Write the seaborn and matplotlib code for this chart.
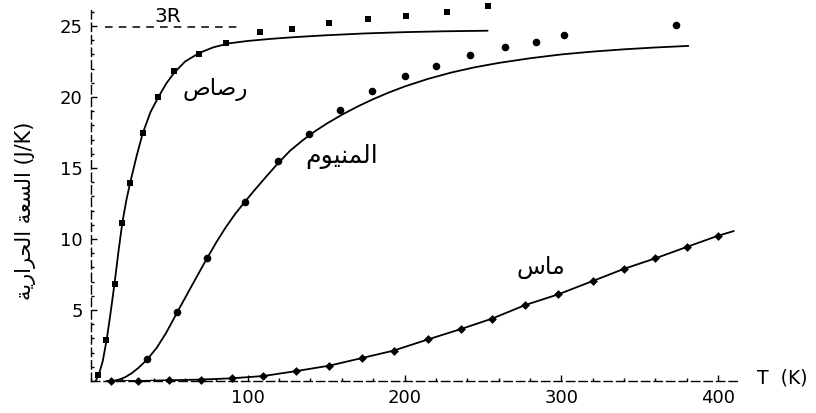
import matplotlib
matplotlib.use("Agg")
import matplotlib.pyplot as plt
import seaborn as sns
import pandas as pd
from matplotlib.ticker import MultipleLocator

# --- data ---
# lead (squares) - measured points
lead_T = [4.7, 9.6, 15, 20, 25, 33, 43, 53, 69, 86, 108, 128, 152, 177, 201, 227, 253]
lead_C = [0.42, 2.9, 6.85, 11.15, 13.97, 17.5, 20.0, 21.8, 23.0, 23.8, 24.56, 24.8, 25.2, 25.5, 25.7, 25.96, 26.4]
# lead - model curve
lead_curve_T = [3, 5, 7.5, 10, 12.5, 15, 17.5, 20, 22.5, 25, 29, 33, 38, 43, 48, 53, 60, 69,
                78, 88, 100, 115, 130, 150, 175, 200, 225, 253]
lead_curve_C = [0.0, 0.45, 1.4, 2.9, 4.8, 6.85, 9.1, 11.15, 12.7, 13.97, 15.8, 17.45, 18.95, 20.0,
                20.95, 21.7, 22.5, 23.1, 23.5, 23.78, 23.95, 24.1, 24.22, 24.35, 24.48, 24.57, 24.63, 24.67]

# aluminium (circles)
al_T = [36, 55, 74, 98, 119, 139, 159, 179, 200, 220, 242, 264, 284, 302, 373]
al_C = [1.53, 4.84, 8.64, 12.58, 15.5, 17.4, 19.1, 20.4, 21.5, 22.2, 22.96, 23.5, 23.9, 24.37, 25.1]
al_curve_T = [14, 18, 22, 26, 30, 36, 42, 48, 55, 62, 68, 74, 80, 86, 92, 98, 104, 111, 119, 127,
              135, 143, 151, 160, 170, 180, 190, 200, 215, 230, 245, 260, 280, 300, 320, 340, 360, 381]
al_curve_C = [0.0, 0.1, 0.28, 0.55, 0.9, 1.53, 2.35, 3.4, 4.84, 6.25, 7.45, 8.64, 9.78, 10.83, 11.77,
              12.6, 13.4, 14.3, 15.3, 16.22, 16.95, 17.6, 18.17, 18.75, 19.33, 19.85, 20.32, 20.74,
              21.28, 21.73, 22.1, 22.4, 22.73, 23.0, 23.2, 23.36, 23.49, 23.6]

# diamond (diamonds)
dia_T = [13, 30, 50, 70, 90, 110, 131, 152, 173, 193, 215, 236, 256, 277, 298, 320, 340, 360, 380, 400]
dia_C = [0.0, 0.0, 0.05, 0.1, 0.19, 0.35, 0.7, 1.08, 1.62, 2.14, 2.93, 3.66, 4.4, 5.35, 6.1, 7.04, 7.9, 8.64, 9.44, 10.23]
dia_curve_T = [10, 13, 30, 50, 70, 90, 110, 131, 152, 173, 193, 215, 236, 256, 277, 298, 320, 340, 360, 380, 400, 410]
dia_curve_C = [0.0, 0.0, 0.0, 0.05, 0.1, 0.19, 0.35, 0.7, 1.08, 1.62, 2.14, 2.93, 3.66, 4.4, 5.35, 6.1, 7.04, 7.9, 8.64, 9.44, 10.23, 10.56]

three_R = 24.94
three_R_span = [9, 93]

x_ticks = [100, 200, 300, 400]
y_ticks = [5, 10, 15, 20, 25]

# Arabic labels in presentation forms (visual order, matplotlib does no shaping)
lbl_lead = "\uFEB9\uFE8E\uFEBB\uFEAD"                            # رصاص
lbl_al = "\uFEE1\uFEEE\uFEF4\uFEE8\uFEE4\uFEDF\uFE8D"            # المنيوم
lbl_dia = "\uFEB1\uFE8E\uFEE3"                                   # ماس
lbl_y = ("\uFE94\uFEF3\uFEAD\uFE8D\uFEAE\uFEA4\uFEDF\uFE8D "     # الحرارية
         "\uFE94\uFECC\uFEB4\uFEDF\uFE8D (J/K)")                 # السعة

# --- style ---
sns.set_theme(style="ticks")
plt.rcParams["font.family"] = ["DejaVu Sans"]
plt.rcParams["text.color"] = "black"
plt.rcParams["xtick.color"] = "black"
plt.rcParams["ytick.color"] = "black"

fig = plt.figure(figsize=(8.16, 4.13), dpi=100)
ax = fig.add_axes([0.1115, 0.0775, 0.7916, 0.8983])

lead_df = pd.DataFrame({"T": lead_curve_T, "C": lead_curve_C})
al_df = pd.DataFrame({"T": al_curve_T, "C": al_curve_C})
dia_df = pd.DataFrame({"T": dia_curve_T, "C": dia_curve_C})

for d in (lead_df, al_df, dia_df):
    sns.lineplot(data=d, x="T", y="C", ax=ax, color="black", linewidth=1.3,
                 sort=False, estimator=None)

sns.scatterplot(x=lead_T, y=lead_C, ax=ax, marker="s", s=22, color="black",
                edgecolor="black", linewidth=0, clip_on=False, zorder=3)
sns.scatterplot(x=al_T, y=al_C, ax=ax, marker="o", s=30, color="black",
                edgecolor="black", linewidth=0, clip_on=False, zorder=3)
sns.scatterplot(x=dia_T, y=dia_C, ax=ax, marker="D", s=20, color="black",
                edgecolor="black", linewidth=0, clip_on=False, zorder=3)

ax.plot(three_R_span, [three_R, three_R], color="black", linewidth=1.1,
        linestyle=(0, (5, 4)))
ax.text(49, three_R + 0.05, "3R", fontsize=14.5, ha="center", va="bottom")

ax.text(79, 20.5, lbl_lead, fontsize=16.5, ha="center", va="center")
ax.text(160, 15.8, lbl_al, fontsize=18, ha="center", va="center")
ax.text(287, 8.0, lbl_dia, fontsize=17, ha="center", va="center")
ax.text(425, 0.2, "T  (K)", fontsize=13.5, ha="left", va="center", clip_on=False)
fig.text(0.031, 0.49, lbl_y, rotation=90, fontsize=15, ha="center", va="center")

ax.set_xlim(0, 412)
ax.set_ylim(0, 26.13)
ax.set_xticks(x_ticks)
ax.set_yticks(y_ticks)
ax.xaxis.set_minor_locator(MultipleLocator(20))
ax.yaxis.set_minor_locator(MultipleLocator(1))
ax.tick_params(which="major", direction="in", length=4, width=1, labelsize=13, pad=6)
ax.tick_params(which="minor", direction="in", length=2, width=1)
ax.set_xlabel("")
ax.set_ylabel("")

sns.despine(ax=ax)
for side in ("left", "bottom"):
    ax.spines[side].set_linestyle((0, (6, 3)))
    ax.spines[side].set_linewidth(1.0)
    ax.spines[side].set_color("black")

fig.savefig("out.png", dpi=100)
